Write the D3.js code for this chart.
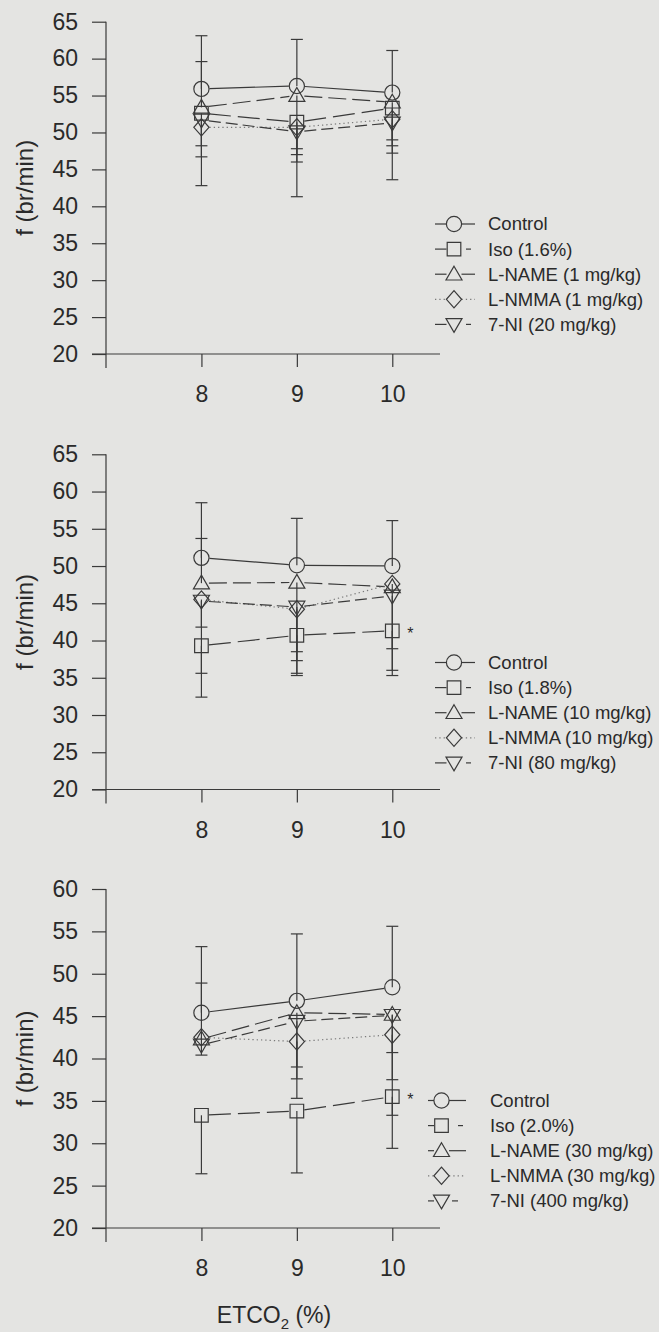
<!DOCTYPE html>
<html><head><meta charset="utf-8">
<script src="https://cdn.jsdelivr.net/npm/d3@7/dist/d3.min.js"></script>
<style>
html,body{margin:0;padding:0;background:#e4e4e2;}
svg{display:block;}
</style></head><body>
<svg id="chart" width="659" height="1332"></svg>
<script>
// ---------------- DATA ----------------
const etco2 = [8, 9, 10];
const xTickValues = [8, 9, 10];
const yTicks65 = [20, 25, 30, 35, 40, 45, 50, 55, 60, 65];
const yTicks60 = [20, 25, 30, 35, 40, 45, 50, 55, 60];
const seriesKeys = ["Control", "Iso", "L-NAME", "L-NMMA", "7-NI"];

// Panel 1
const p1Legend = ["Control", "Iso (1.6%)", "L-NAME (1 mg/kg)", "L-NMMA (1 mg/kg)", "7-NI (20 mg/kg)"];
const p1Control = [55.9, 56.3, 55.4];
const p1Iso     = [52.6, 51.4, 53.3];
const p1LNAME   = [53.4, 55.0, 54.1];
const p1LNMMA   = [50.7, 50.7, 51.8];
const p1NI      = [51.7, 50.1, 51.3];
const p1Hi = [[63.1, 62.6, 61.1], [null, null, null], [59.6, null, null], [null, null, null], [null, null, null]];
const p1Lo = [[null, null, null], [48.2, 47.8, 49.0], [null, 47.0, 48.2], [42.8, 41.3, 43.6], [46.7, 46.0, 47.2]];
const p1Star = [false, false, false];

// Panel 2
const p2Legend = ["Control", "Iso (1.8%)", "L-NAME (10 mg/kg)", "L-NMMA (10 mg/kg)", "7-NI (80 mg/kg)"];
const p2Control = [51.1, 50.1, 50.0];
const p2Iso     = [39.3, 40.7, 41.3];
const p2LNAME   = [47.7, 47.8, 47.2];
const p2LNMMA   = [45.5, 44.2, 47.6];
const p2NI      = [45.3, 44.5, 46.0];
const p2Hi = [[58.5, 56.4, 56.1], [null, null, null], [53.7, null, null], [null, null, null], [null, null, null]];
const p2Lo = [[null, null, null], [32.4, 35.3, 35.3], [null, 38.5, null], [41.8, 37.3, 38.9], [35.6, 35.6, 36.0]];
const p2Star = [false, false, true];

// Panel 3
const p3Legend = ["Control", "Iso (2.0%)", "L-NAME (30 mg/kg)", "L-NMMA (30 mg/kg)", "7-NI (400 mg/kg)"];
const p3Control = [45.4, 46.8, 48.4];
const p3Iso     = [33.3, 33.8, 35.5];
const p3LNAME   = [42.3, 45.4, 45.2];
const p3LNMMA   = [42.5, 42.0, 42.8];
const p3NI      = [41.6, 44.4, 45.1];
const p3Hi = [[53.2, 54.7, 55.6], [null, null, null], [48.9, null, null], [null, null, null], [null, null, null]];
const p3Lo = [[null, null, null], [26.4, 26.5, 29.4], [null, 37.6, 37.5], [40.4, 39.0, 40.7], [null, 35.3, 33.3]];
const p3Star = [false, false, true];

// ---------------- LAYOUT / STYLE ----------------
const INK = "#3a3a3a";
const TXT = "#2a2a2a";
const FONT = "'Liberation Sans', Arial, Helvetica, sans-serif";
const styles = {
  "Control": {shape: "circle",  dash: null,    color: INK,       r: 7.5, legRight: "solid", legDash: null},
  "Iso":     {shape: "square",  dash: "22,7",  color: INK,       r: 7,   legRight: "iso",   legDash: null},
  "L-NAME":  {shape: "triUp",   dash: "18,6",  color: INK,       r: 7,   legRight: "solid", legDash: null},
  "L-NMMA":  {shape: "diamond", dash: "1.3,3", color: "#7a7a7a", r: 7.5, legRight: "solid", legDash: "1.3,3"},
  "7-NI":    {shape: "triDown", dash: "12,5",  color: INK,       r: 7,   legRight: "ni",    legDash: null}
};

const legA = {mx: 454, left: [435, 446.5], solid: [461.5, 475], iso: [466, 471], ni: [466, 471], tx: 488};
const legB = {mx: 441.5, left: [428, 434], solid: [449, 466], iso: [458, 463], ni: [452, 458], tx: 490};

const panels = [
  {top: 21.7, bottom: 354, yMax: 65, ticks: yTicks65, legendY: 224, leg: legA, legend: p1Legend,
   means: [p1Control, p1Iso, p1LNAME, p1LNMMA, p1NI], hi: p1Hi, lo: p1Lo, star: p1Star, xTitle: false},
  {top: 454.3, bottom: 789.5, yMax: 65, ticks: yTicks65, legendY: 662.5, leg: legA, legend: p2Legend,
   means: [p2Control, p2Iso, p2LNAME, p2LNMMA, p2NI], hi: p2Hi, lo: p2Lo, star: p2Star, xTitle: false},
  {top: 889, bottom: 1228, yMax: 60, ticks: yTicks60, legendY: 1100.5, leg: legB, legend: p3Legend,
   means: [p3Control, p3Iso, p3LNAME, p3LNMMA, p3NI], hi: p3Hi, lo: p3Lo, star: p3Star, xTitle: true}
];

const svg = d3.select("#chart");
svg.append("rect").attr("width", 659).attr("height", 1332).attr("fill", "#e4e4e2");

const x = d3.scaleLinear().domain([7, 10.5]).range([106, 440]);

function shapePath(shape, cx, cy) {
  const p = d3.path();
  if (shape === "circle") { p.moveTo(cx + 7.6, cy); p.arc(cx, cy, 7.6, 0, 2 * Math.PI); }
  else if (shape === "square") { p.rect(cx - 6.8, cy - 6.8, 13.6, 13.6); }
  else if (shape === "triUp") { p.moveTo(cx, cy - 8); p.lineTo(cx + 8, cy + 5.8); p.lineTo(cx - 8, cy + 5.8); p.closePath(); }
  else if (shape === "triDown") { p.moveTo(cx, cy + 8); p.lineTo(cx + 8, cy - 5.8); p.lineTo(cx - 8, cy - 5.8); p.closePath(); }
  else if (shape === "diamond") { p.moveTo(cx, cy - 8.6); p.lineTo(cx + 7.6, cy); p.lineTo(cx, cy + 8.6); p.lineTo(cx - 7.6, cy); p.closePath(); }
  return p.toString();
}

const lineGen = d3.line().x(d => d[0]).y(d => d[1]);

panels.forEach(P => {
  const y = d3.scaleLinear().domain([20, P.yMax]).range([P.bottom, P.top]);
  const g = svg.append("g");

  // Y axis
  const gy = g.append("g").attr("transform", `translate(${x(7)},0)`)
    .call(d3.axisLeft(y).tickValues(P.ticks).tickSize(14).tickPadding(14).tickSizeOuter(0));
  gy.select(".domain").remove();
  gy.selectAll("line").attr("stroke", INK).attr("stroke-width", 1.2);
  gy.selectAll("text").attr("font-size", 23).attr("font-family", FONT).attr("fill", TXT);
  g.append("line").attr("x1", x(7)).attr("x2", x(7)).attr("y1", y(P.yMax)).attr("y2", y(20) + 14)
    .attr("stroke", INK).attr("stroke-width", 1.2);

  // X axis
  const gx = g.append("g").attr("transform", `translate(0,${y(20)})`)
    .call(d3.axisBottom(x).tickValues(xTickValues).tickSize(13).tickPadding(19).tickSizeOuter(0).tickFormat(d3.format("d")));
  gx.select(".domain").remove();
  gx.selectAll("line").attr("stroke", INK).attr("stroke-width", 1.2);
  gx.selectAll("text").attr("font-size", 23).attr("font-family", FONT).attr("fill", TXT);
  g.append("line").attr("x1", x(7) - 14).attr("x2", x(10.5)).attr("y1", y(20)).attr("y2", y(20))
    .attr("stroke", INK).attr("stroke-width", 1.2);

  // Y title
  g.append("text").attr("transform", `translate(24,${(y(20) + y(P.yMax)) / 2}) rotate(-90)`)
    .attr("text-anchor", "middle").attr("dominant-baseline", "central")
    .attr("font-size", 24).attr("font-family", FONT).attr("fill", TXT).text("f (br/min)");

  // Series lines (trimmed at markers)
  seriesKeys.forEach((k, si) => {
    const st = styles[k];
    const vals = P.means[si];
    for (let i = 0; i < vals.length - 1; i++) {
      const ax = x(etco2[i]), ay = y(vals[i]), bx = x(etco2[i + 1]), by = y(vals[i + 1]);
      const L = Math.hypot(bx - ax, by - ay), ux = (bx - ax) / L, uy = (by - ay) / L;
      const tr = st.r + 0.5;
      g.append("path")
        .attr("d", lineGen([[ax + ux * tr, ay + uy * tr], [bx - ux * tr, by - uy * tr]]))
        .attr("fill", "none").attr("stroke", st.color).attr("stroke-width", 1.2)
        .attr("stroke-dasharray", st.dash);
    }
  });

  // Error bars
  seriesKeys.forEach((k, si) => {
    const vals = P.means[si];
    vals.forEach((v, i) => {
      const cx = x(etco2[i]);
      [P.hi[si][i], P.lo[si][i]].forEach(e => {
        if (e === null) return;
        g.append("line").attr("x1", cx).attr("x2", cx).attr("y1", y(v)).attr("y2", y(e))
          .attr("stroke", INK).attr("stroke-width", 1.2);
        g.append("line").attr("x1", cx - 6).attr("x2", cx + 6).attr("y1", y(e)).attr("y2", y(e))
          .attr("stroke", INK).attr("stroke-width", 1.2);
      });
    });
  });

  // Markers
  seriesKeys.forEach((k, si) => {
    const st = styles[k];
    P.means[si].forEach((v, i) => {
      g.append("path").attr("d", shapePath(st.shape, x(etco2[i]), y(v)))
        .attr("fill", "none").attr("stroke", INK).attr("stroke-width", 1.2);
    });
  });

  // Significance stars (Iso series)
  P.star.forEach((s, i) => {
    if (!s) return;
    g.append("text").attr("x", x(etco2[i]) + 15).attr("y", y(P.means[1][i]) + 8)
      .attr("font-size", 16).attr("font-family", FONT).attr("fill", TXT).text("*");
  });

  // Legend
  const L = P.leg;
  seriesKeys.forEach((k, si) => {
    const st = styles[k];
    const ly = P.legendY + si * 25.1;
    const right = L[st.legRight];
    g.append("line").attr("x1", L.left[0]).attr("x2", L.left[1]).attr("y1", ly).attr("y2", ly)
      .attr("stroke", st.color).attr("stroke-width", 1.2).attr("stroke-dasharray", st.legDash);
    g.append("line").attr("x1", right[0]).attr("x2", right[1]).attr("y1", ly).attr("y2", ly)
      .attr("stroke", st.color).attr("stroke-width", 1.2).attr("stroke-dasharray", st.legDash);
    g.append("path").attr("d", shapePath(st.shape, L.mx, ly))
      .attr("fill", "none").attr("stroke", INK).attr("stroke-width", 1.2);
    g.append("text").attr("x", L.tx).attr("y", ly).attr("dy", "0.35em")
      .attr("font-size", 18.5).attr("font-family", FONT).attr("fill", TXT).text(P.legend[si]);
  });

  if (P.xTitle) {
    const t = g.append("text").attr("x", 274).attr("y", 1323).attr("text-anchor", "middle")
      .attr("font-size", 23).attr("font-family", FONT).attr("fill", TXT);
    t.append("tspan").text("ETCO");
    t.append("tspan").attr("font-size", 15).attr("dy", 6).text("2");
    t.append("tspan").attr("dy", -6).text(" (%)");
  }
});
</script>
</body></html>
